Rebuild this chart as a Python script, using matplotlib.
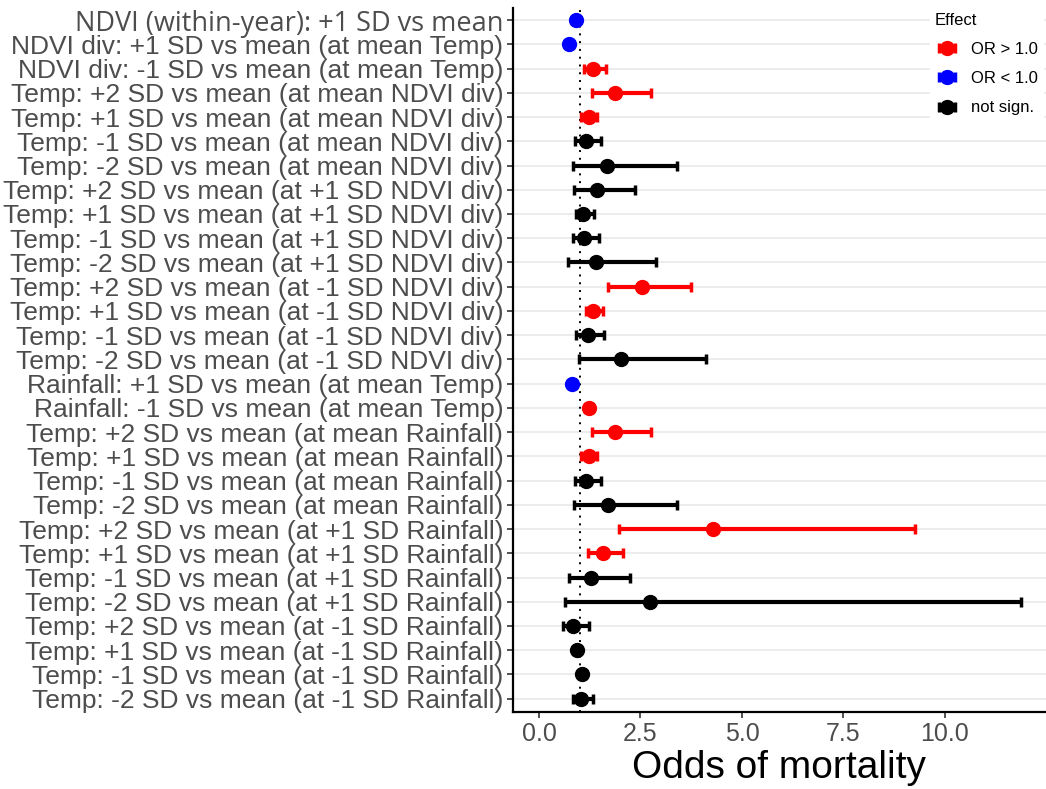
import numpy as np
import matplotlib
matplotlib.use("Agg")
import matplotlib.pyplot as plt

# Odds ratios with 95% CI, top row first
labels = [
    "NDVI (within-year): +1 SD vs mean",
    "NDVI div: +1 SD vs mean (at mean Temp)",
    "NDVI div: -1 SD vs mean (at mean Temp)",
    "Temp: +2 SD vs mean (at mean NDVI div)",
    "Temp: +1 SD vs mean (at mean NDVI div)",
    "Temp: -1 SD vs mean (at mean NDVI div)",
    "Temp: -2 SD vs mean (at mean NDVI div)",
    "Temp: +2 SD vs mean (at +1 SD NDVI div)",
    "Temp: +1 SD vs mean (at +1 SD NDVI div)",
    "Temp: -1 SD vs mean (at +1 SD NDVI div)",
    "Temp: -2 SD vs mean (at +1 SD NDVI div)",
    "Temp: +2 SD vs mean (at -1 SD NDVI div)",
    "Temp: +1 SD vs mean (at -1 SD NDVI div)",
    "Temp: -1 SD vs mean (at -1 SD NDVI div)",
    "Temp: -2 SD vs mean (at -1 SD NDVI div)",
    "Rainfall: +1 SD vs mean (at mean Temp)",
    "Rainfall: -1 SD vs mean (at mean Temp)",
    "Temp: +2 SD vs mean (at mean Rainfall)",
    "Temp: +1 SD vs mean (at mean Rainfall)",
    "Temp: -1 SD vs mean (at mean Rainfall)",
    "Temp: -2 SD vs mean (at mean Rainfall)",
    "Temp: +2 SD vs mean (at +1 SD Rainfall)",
    "Temp: +1 SD vs mean (at +1 SD Rainfall)",
    "Temp: -1 SD vs mean (at +1 SD Rainfall)",
    "Temp: -2 SD vs mean (at +1 SD Rainfall)",
    "Temp: +2 SD vs mean (at -1 SD Rainfall)",
    "Temp: +1 SD vs mean (at -1 SD Rainfall)",
    "Temp: -1 SD vs mean (at -1 SD Rainfall)",
    "Temp: -2 SD vs mean (at -1 SD Rainfall)",
]
odds = [0.92, 0.74, 1.33, 1.87, 1.22, 1.16, 1.67, 1.42, 1.08, 1.10,
        1.40, 2.53, 1.34, 1.20, 2.01, 0.82, 1.22, 1.87, 1.22, 1.16,
        1.70, 4.29, 1.57, 1.29, 2.74, 0.84, 0.94, 1.05, 1.03]
ci_low = [0.88, 0.68, 1.11, 1.30, 1.03, 0.89, 0.85, 0.87, 0.91, 0.83,
          0.71, 1.69, 1.16, 0.92, 0.99, 0.77, 1.14, 1.30, 1.03, 0.89,
          0.87, 1.98, 1.21, 0.74, 0.63, 0.58, 0.89, 1.00, 0.84]
ci_high = [0.96, 0.80, 1.65, 2.77, 1.44, 1.52, 3.39, 2.36, 1.35, 1.48,
           2.88, 3.74, 1.58, 1.59, 4.11, 0.87, 1.30, 2.75, 1.44, 1.54,
           3.39, 9.27, 2.08, 2.23, 11.88, 1.23, 0.99, 1.10, 1.33]
effect = ["down", "down", "up", "up", "up", "ns", "ns", "ns", "ns", "ns",
          "ns", "up", "up", "ns", "ns", "down", "up", "up", "up", "ns",
          "ns", "up", "up", "ns", "ns", "ns", "ns", "ns", "ns"]

groups = [("up", "OR > 1.0", "#FF0000"),
          ("down", "OR < 1.0", "#0000FF"),
          ("ns", "not sign.", "black")]

W, H = 1046, 789
fig = plt.figure(figsize=(W / 100, H / 100), dpi=100)
ax = fig.add_axes([513 / W, (H - 712) / H, (W - 513) / W, (712 - 8) / H])

odds = np.array(odds)
ci_low = np.array(ci_low)
ci_high = np.array(ci_high)
effect = np.array(effect)
ypos = np.arange(len(labels))

for y in ypos:
    ax.axhline(y, color="#EBEBEB", lw=1.3, zorder=0)
ax.axvline(1.0, color="black", ls=(0, (1, 3)), lw=1.4, zorder=1)

for key, name, col in groups:
    m = effect == key
    ax.errorbar(odds[m], ypos[m],
                xerr=[odds[m] - ci_low[m], ci_high[m] - odds[m]],
                fmt="o", color=col, ms=10, elinewidth=3, capsize=3.5,
                capthick=2.5, label=name, zorder=3)

ax.set_ylim(28.55, -0.5)
ax.set_xlim(-0.64, 12.49)
ax.set_yticks(ypos)
ax.set_yticklabels(labels, fontsize=19, color="#4D4D4D", family="Liberation Sans")
ax.get_yticklabels()[0].set_family("Open Sans")
ax.get_yticklabels()[0].set_fontsize(19.5)
ax.set_xticks([0, 2.5, 5, 7.5, 10])
ax.set_xticklabels(["0.0", "2.5", "5.0", "7.5", "10.0"], fontsize=18,
                   color="#4D4D4D", family="Liberation Sans")
ax.set_xlabel("Odds of mortality", fontsize=28, family="Liberation Sans",
              labelpad=3)
ax.tick_params(axis="both", length=4, width=1.2, color="#333333", pad=3)

for s in ["top", "right"]:
    ax.spines[s].set_visible(False)
for s in ["left", "bottom"]:
    ax.spines[s].set_linewidth(1.6)
    ax.spines[s].set_color("black")

leg = ax.legend(title="Effect", loc="upper left", bbox_to_anchor=(0.766, 1.012),
                frameon=True, framealpha=1, edgecolor="white",
                prop={"family": "Liberation Sans", "size": 12},
                title_fontproperties={"family": "Liberation Sans", "size": 12},
                handlelength=1.5, handletextpad=0.7, labelspacing=0.85,
                borderpad=0.3)
leg._legend_box.align = "left"

fig.savefig("out.png", dpi=100, facecolor="white")
